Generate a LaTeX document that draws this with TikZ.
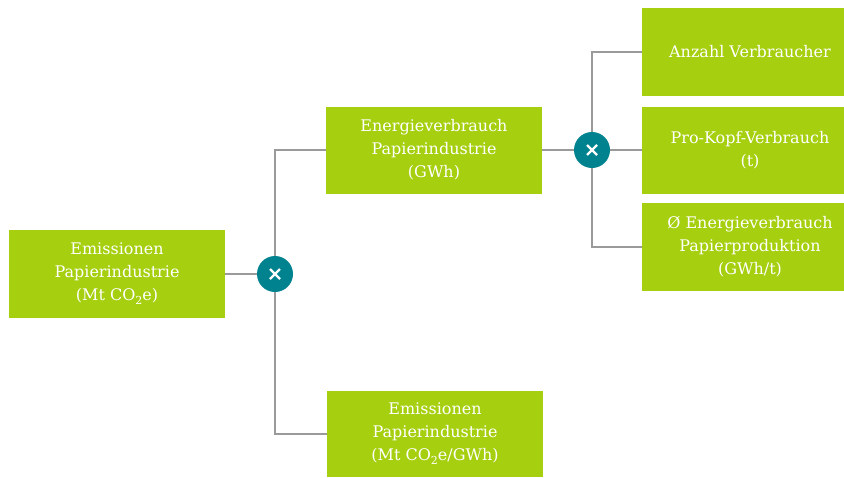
\documentclass[tikz,border=0pt]{standalone}
\usepackage{fontspec}
\setmainfont{DejaVu Serif}
\definecolor{boxgreen}{HTML}{A6CF0F}
\definecolor{opteal}{HTML}{00838F}
\definecolor{linegrey}{HTML}{9A9A9A}
\newcommand{\cotwo}{CO\raisebox{-4pt}{\fontsize{11}{11}\selectfont 2}}
\begin{document}
\begin{tikzpicture}[x=1pt,y=-1pt,
  gbox/.style={fill=boxgreen, text=white, minimum width=216pt, minimum height=88pt,
    inner sep=0pt, align=center, font=\fontsize{16}{23}\selectfont},
  opnode/.style={circle, fill=opteal, minimum size=36pt, inner sep=0pt},
  conn/.style={draw=linegrey, line width=1.5pt}]
\useasboundingbox (0,0) rectangle (844,477);
\node[gbox] (emis) at (117,274) {Emissionen\\Papierindustrie\\(Mt \cotwo e)};
\node[gbox, minimum height=87pt] (energ) at (434,150) {Energieverbrauch\\Papierindustrie\\(GWh)};
\node[gbox, minimum height=86pt] (intens) at (435,434) {Emissionen\\Papierindustrie\\(Mt \cotwo e/GWh)};
\node[gbox] (anz) at (750,52) {Anzahl Verbraucher};
\node[gbox, minimum height=87pt] (kopf) at (750,150) {Pro-Kopf-Verbrauch\\(t)};
\node[gbox] (prod) at (750,247) {Ø Energieverbrauch\\Papierproduktion\\(GWh/t)};
\node[opnode] (op1) at (275,274) {};
\node[opnode] (op2) at (592,150) {};
\foreach \o in {op1,op2}{
  \draw[white, line width=2.4pt] ([shift={(-5pt,-5pt)}]\o.center) -- ([shift={(5pt,5pt)}]\o.center);
  \draw[white, line width=2.4pt] ([shift={(-5pt,5pt)}]\o.center) -- ([shift={(5pt,-5pt)}]\o.center);
}
\draw[conn] (emis.east) -- (op1);
\draw[conn] (op1) |- (energ.west);
\draw[conn] (op1) |- (intens.west);
\draw[conn] (energ.east) -- (op2);
\draw[conn] (op2) |- (anz.west);
\draw[conn] (op2) -- (kopf.west);
\draw[conn] (op2) |- (prod.west);
\end{tikzpicture}
\end{document}
